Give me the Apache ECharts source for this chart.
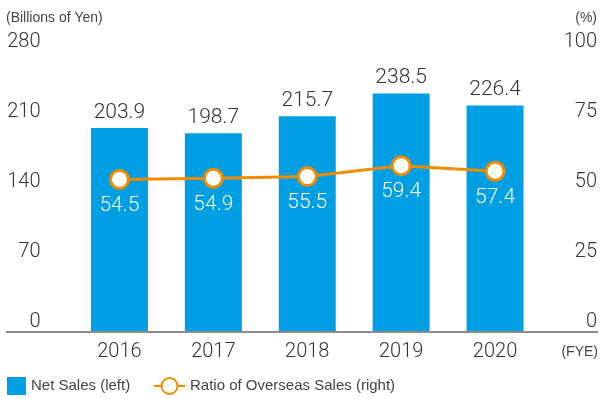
<!DOCTYPE html>
<html>
<head>
<meta charset="utf-8">
<script src="https://cdn.jsdelivr.net/npm/echarts@6/dist/echarts.min.js"></script>
<style>
  html, body { margin: 0; padding: 0; background: #fff; }
  #chart { width: 600px; height: 399px; }
</style>
</head>
<body>
<div id="chart"></div>
<script>
// Fiscal years and values
const years = ['2016', '2017', '2018', '2019', '2020'];
const netSales = [203.9, 198.7, 215.7, 238.5, 226.4];        // billions of yen
const overseasRatio = [54.5, 54.9, 55.5, 59.4, 57.4];        // percent
const leftTicks = { min: 0, max: 280, interval: 70 };
const rightTicks = { min: 0, max: 100, interval: 25 };

const BLUE = '#009fe3';
const ORANGE = '#f08c00';
const TEXT = '#333333';
const NUM_FONT = 'Roboto';
const LABEL_FONT = '"Liberation Sans", Arial, sans-serif';

const chart = echarts.init(document.getElementById('chart'));

chart.setOption({
  animation: false,
  grid: { left: 72.5, right: 57.5, top: 52, bottom: 67 },
  graphic: [
    { type: 'line', shape: { x1: 6, y1: 332, x2: 598, y2: 332 },
      style: { stroke: '#8c8c8c', lineWidth: 2 }, z: 10 },
    { type: 'text', left: 6, top: 11,
      style: { text: '(Billions of Yen)', fill: '#444', font: '14px ' + LABEL_FONT } },
    { type: 'text', right: 3, top: 11,
      style: { text: '(%)', fill: '#444', font: '14px ' + LABEL_FONT } },
    { type: 'text', right: 2, top: 345,
      style: { text: '(FYE)', fill: '#444', font: '14px ' + LABEL_FONT } }
  ],
  legend: [
    {
      data: [{ name: 'Net Sales (left)', icon: 'rect' }],
      left: 7, top: 377, padding: 0, itemWidth: 19, itemHeight: 18,
      textStyle: { color: '#444', fontSize: 15, fontFamily: LABEL_FONT }
    },
    {
      data: ['Ratio of Overseas Sales (right)'],
      left: 153, top: 377, padding: 0, itemWidth: 31, itemHeight: 20,
      textStyle: { color: '#444', fontSize: 15, fontFamily: LABEL_FONT }
    }
  ],
  xAxis: {
    type: 'category',
    data: years,
    axisLine: { show: false },
    axisTick: { show: false },
    axisLabel: { color: TEXT, fontSize: 20, fontFamily: NUM_FONT, fontWeight: 300, margin: 10 }
  },
  yAxis: [
    {
      type: 'value',
      min: leftTicks.min, max: leftTicks.max, interval: leftTicks.interval,
      splitLine: { show: false },
      axisLine: { show: false },
      axisTick: { show: false },
      axisLabel: { color: TEXT, fontSize: 20, fontFamily: NUM_FONT, fontWeight: 300,
                   margin: 32, verticalAlign: 'bottom', align: 'right' }
    },
    {
      type: 'value',
      min: rightTicks.min, max: rightTicks.max, interval: rightTicks.interval,
      splitLine: { show: false },
      axisLine: { show: false },
      axisTick: { show: false },
      axisLabel: { color: TEXT, fontSize: 20, fontFamily: NUM_FONT, fontWeight: 300,
                   margin: 55, verticalAlign: 'bottom', align: 'right' }
    }
  ],
  series: [
    {
      name: 'Net Sales (left)',
      type: 'bar',
      data: netSales,
      barWidth: 57,
      itemStyle: { color: BLUE },
      label: {
        show: true, position: 'top', distance: 5,
        color: TEXT, fontSize: 21, fontFamily: NUM_FONT, fontWeight: 300,
        formatter: p => p.value.toFixed(1)
      }
    },
    {
      name: 'Ratio of Overseas Sales (right)',
      type: 'line',
      yAxisIndex: 1,
      data: overseasRatio,
      symbol: 'circle',
      symbolSize: 18,
      lineStyle: { color: ORANGE, width: 3 },
      itemStyle: { color: '#fff', borderColor: ORANGE, borderWidth: 3 },
      label: {
        show: true, position: 'bottom', distance: 5,
        color: '#fff', fontSize: 21, fontFamily: NUM_FONT, fontWeight: 300,
        formatter: p => p.value.toFixed(1)
      },
      z: 5
    }
  ]
});
</script>
</body>
</html>
